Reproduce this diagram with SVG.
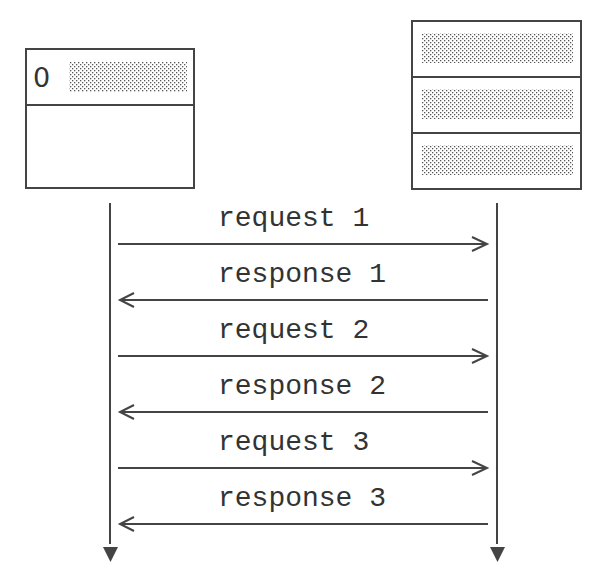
<svg xmlns="http://www.w3.org/2000/svg" width="610" height="588" viewBox="0 0 610 588">
<style>
.box{fill:#fff;stroke:#444;stroke-width:2}
.ln{fill:none;stroke:#444;stroke-width:2}
.t{font-family:"Liberation Mono",monospace;font-size:28px;fill:#333}
.z{font-family:"DejaVu Sans",sans-serif;font-size:27px;fill:#333}
.dots{fill:url(#dot)}
</style>
<defs>
<pattern id="dot" width="4" height="4" patternUnits="userSpaceOnUse">
<rect x="0" y="0" width="1.3" height="1.3" fill="#555"/>
<rect x="2" y="2" width="1.3" height="1.3" fill="#555"/>
</pattern>
</defs>
<rect width="610" height="588" fill="#fff"/>
<g id="client">
<rect class="box" x="26" y="49" width="168" height="139"/>
<line class="ln" x1="26" y1="105" x2="194" y2="105"/>
<text class="z" x="33" y="87">0</text>
<rect class="dots" x="69" y="62" width="118" height="30"/>
</g>
<g id="server">
<rect class="box" x="412" y="21" width="169" height="168"/>
<line class="ln" x1="412" y1="77" x2="581" y2="77"/>
<line class="ln" x1="412" y1="133" x2="581" y2="133"/>
<rect class="dots" x="422" y="33" width="151" height="30"/>
<rect class="dots" x="422" y="89" width="151" height="30"/>
<rect class="dots" x="422" y="145" width="151" height="30"/>
</g>
<g id="connectors">
<line class="ln" x1="110" y1="203" x2="110" y2="544"/>
<polygon points="103,547 118,547 110.5,562" fill="#444"/>
<line class="ln" x1="497" y1="203" x2="497" y2="544"/>
<polygon points="490,547 505,547 497.5,562" fill="#444"/>

<line class="ln" x1="118" y1="244" x2="486" y2="244"/>
<polyline class="ln" points="472,237 487,244 472,251"/>
<line class="ln" x1="122" y1="300" x2="488" y2="300"/>
<polyline class="ln" points="134,293 120,300 134,307"/>

<line class="ln" x1="118" y1="356" x2="486" y2="356"/>
<polyline class="ln" points="472,349 487,356 472,363"/>
<line class="ln" x1="122" y1="412" x2="488" y2="412"/>
<polyline class="ln" points="134,405 120,412 134,419"/>

<line class="ln" x1="118" y1="468" x2="486" y2="468"/>
<polyline class="ln" points="472,461 487,468 472,475"/>
<line class="ln" x1="122" y1="524" x2="488" y2="524"/>
<polyline class="ln" points="134,517 120,524 134,531"/>

<text class="t" x="218" y="226">request 1</text>
<text class="t" x="218" y="282">response 1</text>
<text class="t" x="218" y="338">request 2</text>
<text class="t" x="218" y="394">response 2</text>
<text class="t" x="218" y="450">request 3</text>
<text class="t" x="218" y="506">response 3</text>
</g>
</svg>
